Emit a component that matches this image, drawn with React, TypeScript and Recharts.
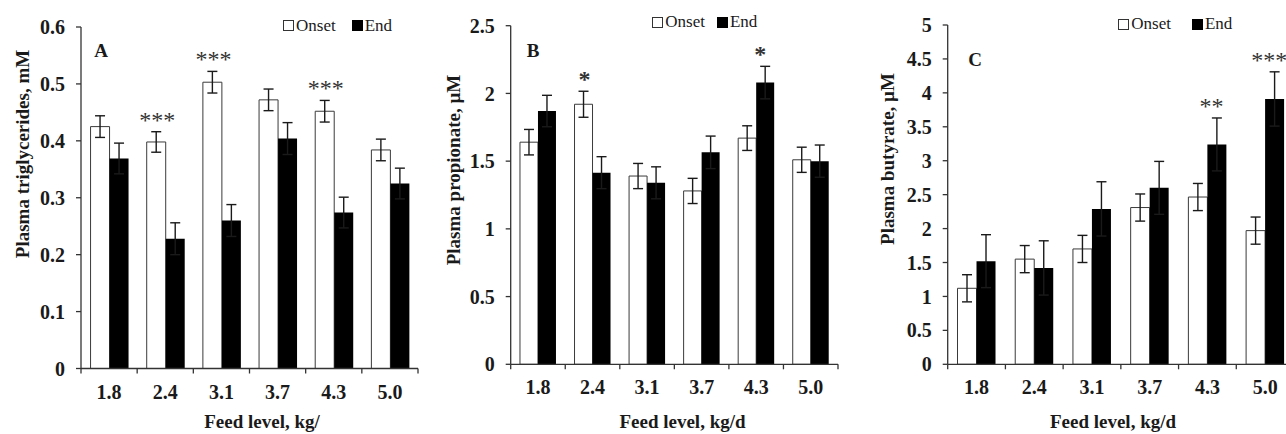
import React from "react";
import {
  ComposedChart,
  Bar,
  Line,
  XAxis,
  YAxis,
  ErrorBar,
  Legend,
} from "recharts";

// feed level categories shared by all three panels
const feedLevels = ["1.8", "2.4", "3.1", "3.7", "4.3", "5.0"];

// A: plasma triglycerides, mM
const trigOnset = [0.425, 0.398, 0.503, 0.472, 0.452, 0.384];
const trigOnsetSe = [0.019, 0.018, 0.019, 0.019, 0.019, 0.019];
const trigEnd = [0.369, 0.228, 0.26, 0.404, 0.274, 0.325];
const trigEndSe = [0.027, 0.028, 0.028, 0.028, 0.027, 0.027];
const trigSig = ["", "***", "***", "", "***", ""];
const trigTicks = [0, 0.1, 0.2, 0.3, 0.4, 0.5, 0.6];

// B: plasma propionate, µM
const propOnset = [1.64, 1.92, 1.39, 1.28, 1.67, 1.51];
const propOnsetSe = [0.094, 0.096, 0.093, 0.093, 0.091, 0.093];
const propEnd = [1.87, 1.415, 1.34, 1.565, 2.08, 1.5];
const propEndSe = [0.116, 0.118, 0.118, 0.12, 0.12, 0.119];
const propSig = ["", "*", "", "", "*", ""];
const propTicks = [0, 0.5, 1, 1.5, 2, 2.5];

// C: plasma butyrate, µM
const butOnset = [1.12, 1.55, 1.7, 2.31, 2.465, 1.97];
const butOnsetSe = [0.2, 0.2, 0.2, 0.2, 0.2, 0.2];
const butEnd = [1.52, 1.42, 2.29, 2.6, 3.24, 3.91];
const butEndSe = [0.39, 0.4, 0.4, 0.39, 0.39, 0.4];
const butSig = ["", "", "", "", "**", "***"];
const butTicks = [0, 0.5, 1, 1.5, 2, 2.5, 3, 3.5, 4, 4.5, 5];

const FONT = "'Liberation Serif', 'Times New Roman', serif";
const INK = "#1a1a1a";
const AXIS = "#333";
const H = 434;
const LEGEND_ORDER = ["onset", "end"];

function buildRows(
  onset: number[],
  onsetSe: number[],
  end: number[],
  endSe: number[],
  sig: string[]
) {
  return feedLevels.map((level, i) => {
    const topO = onset[i] + onsetSe[i];
    const topE = end[i] + endSe[i];
    return {
      level,
      onset: onset[i],
      onsetSe: onsetSe[i],
      end: end[i],
      endSe: endSe[i],
      sig: sig[i],
      sigTop: sig[i] ? Math.max(topO, topE) : null,
      sigSide: topO >= topE ? -1 : 1,
    };
  });
}

const panels = [
  {
    id: "A",
    left: 0,
    width: 430,
    plotLeft: 81,
    plotRight: 418,
    plotTop: 27,
    plotBottom: 368.5,
    domain: [0, 0.6],
    ticks: trigTicks,
    rows: buildRows(trigOnset, trigOnsetSe, trigEnd, trigEndSe, trigSig),
    yTitle: "Plasma triglycerides, mM",
    yTitleX: 22.5,
    yTitleY: 154,
    xTitle: "Feed level, kg/",
    xTitleX: 262,
    legendX: 283,
    legendY: 25.7,
    legendGap: 16,
    letterX: 101,
    letterY: 58.3,
    sigWeight: 400,
  },
  {
    id: "B",
    left: 420,
    width: 430,
    plotLeft: 90.7,
    plotRight: 418,
    plotTop: 25.7,
    plotBottom: 364.3,
    domain: [0, 2.5],
    ticks: propTicks,
    rows: buildRows(propOnset, propOnsetSe, propEnd, propEndSe, propSig),
    yTitle: "Plasma propionate, µM",
    yTitleX: 33,
    yTitleY: 170,
    xTitle: "Feed level, kg/d",
    xTitleX: 262.5,
    legendX: 232.3,
    legendY: 22.3,
    legendGap: 12,
    letterX: 113,
    letterY: 58.3,
    sigWeight: 700,
  },
  {
    id: "C",
    left: 850,
    width: 456,
    plotLeft: 97.7,
    plotRight: 444,
    plotTop: 25,
    plotBottom: 364.3,
    domain: [0, 5],
    ticks: butTicks,
    rows: buildRows(butOnset, butOnsetSe, butEnd, butEndSe, butSig),
    yTitle: "Plasma butyrate, µM",
    yTitleX: 37,
    yTitleY: 159,
    xTitle: "Feed level, kg/d",
    xTitleX: 263,
    legendX: 268.3,
    legendY: 24,
    legendGap: 21,
    letterX: 125,
    letterY: 66.7,
    sigWeight: 400,
  },
];

type PanelCfg = (typeof panels)[number];

function Panel({ cfg }: { cfg: PanelCfg }) {
  const band = (cfg.plotRight - cfg.plotLeft) / cfg.rows.length;
  const xAxisHeight = H - cfg.plotBottom;

  const renderXTick = (props: any) => {
    const { x, y, payload, index } = props;
    const last = index === cfg.rows.length - 1;
    return (
      <g>
        <line x1={x - band / 2} x2={x - band / 2} y1={y} y2={y + 5} stroke={AXIS} strokeWidth={1.3} />
        {last && (
          <line x1={x + band / 2} x2={x + band / 2} y1={y} y2={y + 5} stroke={AXIS} strokeWidth={1.3} />
        )}
        <text
          x={x}
          y={y + 30}
          textAnchor="middle"
          fill={INK}
          fontSize={20}
          fontWeight={700}
          fontFamily={FONT}
        >
          {payload.value}
        </text>
      </g>
    );
  };

  const renderStar = (props: any) => {
    const { cx, cy, payload, index } = props;
    if (!payload || !payload.sig || cy == null) return <g key={index} />;
    return (
      <text
        key={index}
        x={cx + (payload.sigSide < 0 ? -8 : 4)}
        y={cy - 4}
        textAnchor="middle"
        fontSize={24}
        fontWeight={cfg.sigWeight}
        fontFamily={FONT}
        fill="#333"
      >
        {payload.sig}
      </text>
    );
  };

  const renderLegend = (props: any) => {
    const all = props.payload || [];
    const items = LEGEND_ORDER.map((k) => all.find((p: any) => p.dataKey === k)).filter(Boolean);
    return (
      <div style={{ position: "relative", height: 0, width: cfg.width }}>
        <div
          style={{
            position: "absolute",
            left: cfg.legendX,
            top: cfg.legendY - 11,
            height: 22,
            display: "flex",
            alignItems: "center",
            fontFamily: FONT,
            fontSize: 17,
            color: INK,
            whiteSpace: "nowrap",
          }}
        >
          {items.map((it: any, i: number) => (
            <span
              key={it.value}
              style={{ display: "flex", alignItems: "center", marginLeft: i === 0 ? 0 : cfg.legendGap }}
            >
              <span
                style={{
                  display: "inline-block",
                  width: i === 0 ? 9 : 11,
                  height: i === 0 ? 9 : 11,
                  background: i === 0 ? "#fff" : "#000",
                  border: i === 0 ? "1px solid #333" : "none",
                  marginRight: 2,
                }}
              />
              {it.value}
            </span>
          ))}
        </div>
        <div
          style={{
            position: "absolute",
            left: cfg.letterX - 10,
            width: 20,
            top: cfg.letterY - 17,
            textAlign: "center",
            fontFamily: FONT,
            fontWeight: 700,
            fontSize: 19,
            lineHeight: "20px",
            color: INK,
          }}
        >
          {cfg.id}
        </div>
      </div>
    );
  };

  return (
    <div style={{ position: "absolute", left: cfg.left, top: 0 }}>
      <ComposedChart
        width={cfg.width}
        height={H}
        data={cfg.rows}
        margin={{ top: cfg.plotTop, right: cfg.width - cfg.plotRight, bottom: 0, left: 0 }}
        barCategoryGap="17%"
        barGap={0}
      >
        <XAxis
          dataKey="level"
          height={xAxisHeight}
          interval={0}
          tickLine={false}
          tickSize={0}
          tickMargin={0}
          tick={renderXTick}
          axisLine={{ stroke: AXIS, strokeWidth: 1.3 }}
          label={{
            value: cfg.xTitle,
            content: () => (
              <text
                x={cfg.xTitleX}
                y={H - 6}
                textAnchor="middle"
                fill={INK}
                fontSize={19}
                fontWeight={700}
                fontFamily={FONT}
              >
                {cfg.xTitle}
              </text>
            ),
          }}
        />
        <YAxis
          type="number"
          domain={cfg.domain}
          ticks={cfg.ticks}
          interval={0}
          allowDataOverflow
          width={cfg.plotLeft}
          tickSize={5}
          tickMargin={11}
          axisLine={{ stroke: AXIS, strokeWidth: 1.3 }}
          tickLine={{ stroke: AXIS, strokeWidth: 1.3 }}
          tick={{ fill: INK, fontSize: 20, fontWeight: 700, fontFamily: FONT }}
          label={{
            value: cfg.yTitle,
            content: () => (
              <text
                transform={`translate(${cfg.yTitleX},${cfg.yTitleY}) rotate(-90)`}
                textAnchor="middle"
                dominantBaseline="central"
                fill={INK}
                fontSize={19}
                fontWeight={700}
                fontFamily={FONT}
              >
                {cfg.yTitle}
              </text>
            ),
          }}
        />
        <Legend
          content={renderLegend}
          wrapperStyle={{ left: 0, top: 0, bottom: "auto", width: cfg.width, height: 0 }}
        />
        <Bar dataKey="onset" name="Onset" fill="#fff" stroke="#3a3a3a" strokeWidth={1} isAnimationActive={false}>
          <ErrorBar dataKey="onsetSe" width={5} stroke={INK} strokeWidth={1.4} />
        </Bar>
        <Bar dataKey="end" name="End" fill="#000" isAnimationActive={false}>
          <ErrorBar dataKey="endSe" width={5} stroke={INK} strokeWidth={1.4} />
        </Bar>
        <Line
          dataKey="sigTop"
          stroke="none"
          legendType="none"
          dot={renderStar}
          activeDot={false}
          isAnimationActive={false}
        />
      </ComposedChart>
    </div>
  );
}

export default function App() {
  return (
    <div
      style={{
        position: "absolute",
        left: 0,
        top: 0,
        width: 1286,
        height: H,
        overflow: "hidden",
        background: "#fff",
      }}
    >
      {panels.map((p) => (
        <Panel key={p.id} cfg={p} />
      ))}
    </div>
  );
}
